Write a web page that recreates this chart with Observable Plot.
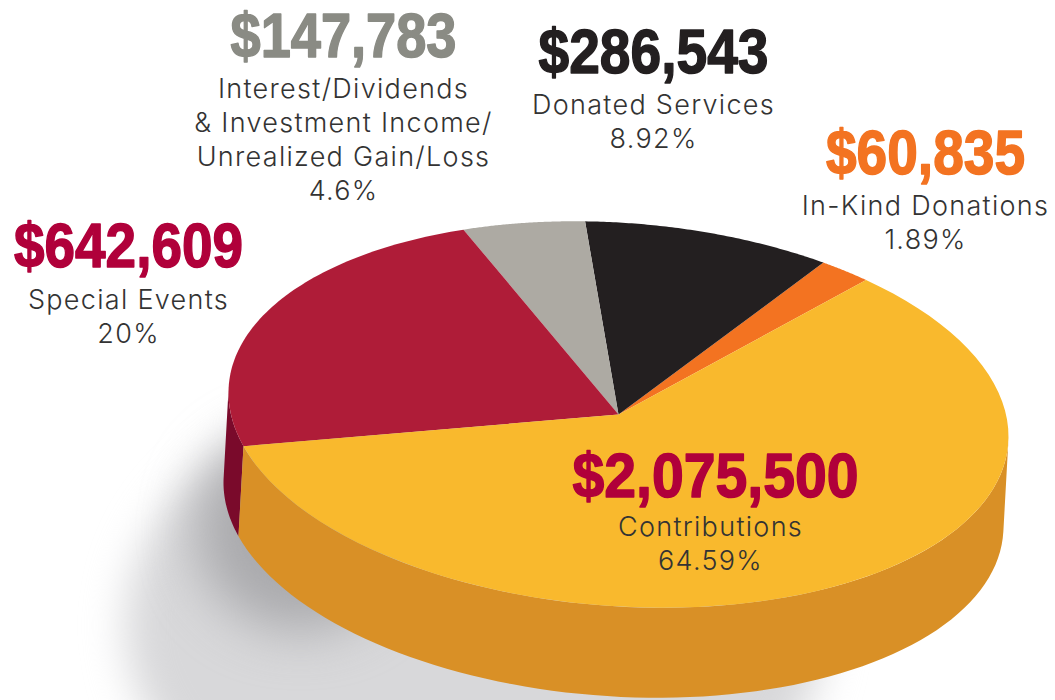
<!DOCTYPE html>
<html>
<head>
<meta charset="utf-8">
<script src="https://cdn.jsdelivr.net/npm/d3@7"></script>
<script src="https://cdn.jsdelivr.net/npm/@observablehq/plot@0.6"></script>
<style>
html,body{margin:0;padding:0;background:#fff}
.caption text{letter-spacing:1.3px}
</style>
</head>
<body>
<div id="chart"></div>
<script>
// Data
const categories = ["In-Kind Donations", "Donated Services", "Interest/Dividends\n& Investment Income/\nUnrealized Gain/Loss", "Special Events", "Contributions"];
const amounts = ["$60,835", "$286,543", "$147,783", "$642,609", "$2,075,500"];
const percents = ["1.89%", "8.92%", "4.6%", "20%", "64.59%"];
// Share of the ellipse each slice occupies as drawn (the artwork exaggerates small slices)
const drawnShares = [2.14, 10.17, 5.14, 22.92, 59.63];

// Styles
const topColors = ["#F37321", "#231F20", "#ADAAA3", "#AF1C38", "#F9B92D"];
const wallColors = ["#B5541A", "#111", "#7d7b76", "#7A0A2B", "#D99026"];
const amountColors = ["#F37321", "#231F20", "#8A8B84", "#B0003A", "#B0003A"];

// Layout in picture units
const pie = {cx: 618, cy: 414, rx: 390, ry: 192, skew: 0.056, wallDx: -5, wallDy: 90, start: 50.6};
const amountAt = [[925, 153], [653, 52], [343, 36], [128, 246], [715, 476]];
const captionAt = [[925, 190], [653, 89], [343, 73], [128, 284], [710, 511]];
const amountWidths = [199, 230, 226, 229, 286];

const rim = (deg, dx = 0, dy = 0) => {
  const t = deg * Math.PI / 180;
  return {
    x: pie.cx + pie.rx * Math.cos(t) + dx,
    y: pie.cy - pie.ry * Math.sin(t) + pie.skew * pie.rx * Math.cos(t) + dy
  };
};
const arc = (a, b, dx, dy) => d3.range(0, 81).map(i => rim(a + (b - a) * i / 80, dx, dy));

// The wall is only visible between the two rim points whose tangent runs along the extrusion
const tangent = Math.atan2(pie.ry * pie.wallDx, pie.rx * pie.wallDy + pie.skew * pie.rx * -pie.wallDx) * 180 / Math.PI;
const wallFrom = 180 + tangent, wallTo = 360 + tangent;

let angle = pie.start;
const tops = [], walls = [];
categories.forEach((name, i) => {
  const a = angle, b = angle + drawnShares[i] * 3.6;
  angle = b;
  const topPts = arc(a, b, 0, 0);
  [{x: pie.cx, y: pie.cy}, ...topPts].forEach(p => tops.push({...p, i, color: topColors[i]}));
  const wa = Math.max(a, wallFrom), wb = Math.min(b, wallTo);
  if (wb > wa) [...arc(wa, wb, 0, 0), ...arc(wa, wb, pie.wallDx, pie.wallDy).reverse()]
    .forEach(p => walls.push({...p, i, color: wallColors[i]}));
});
const blob = (cx, cy, rx, ry) => d3.range(0, 121).map(i => {
  const t = i / 120 * 2 * Math.PI;
  return {x: cx + rx * Math.cos(t), y: cy - ry * Math.sin(t)};
});

const rows = categories.map((name, i) => ({
  amount: amounts[i], caption: `${name}\n${percents[i]}`,
  ax: amountAt[i][0], ay: amountAt[i][1], cx: captionAt[i][0], cy: captionAt[i][1],
  color: amountColors[i]
}));

const plot = Plot.plot({
  width: 1055, height: 700, margin: 0,
  x: {domain: [0, 1055], range: [0, 1055], axis: null},
  y: {domain: [0, 700], range: [0, 700], axis: null},
  color: {type: "identity"},
  style: {background: "#fff"},
  marks: [
    Plot.line(blob(475, 625, 350, 245), {x: "x", y: "y", fill: "#d8d8da", stroke: "none", imageFilter: "blur(20px)"}),
    Plot.line(blob(300, 530, 105, 100), {x: "x", y: "y", fill: "#aaaaad", stroke: "none", imageFilter: "blur(26px)"}),
    Plot.line(walls, {x: "x", y: "y", z: "i", fill: "color", stroke: "none"}),
    Plot.line(tops, {x: "x", y: "y", z: "i", fill: "color", stroke: "none"}),
    Plot.text(rows, {x: "ax", y: "ay", text: "amount", fill: "color", stroke: "color", strokeWidth: 1.5,
      fontFamily: "Liberation Sans", fontWeight: 700, fontSize: 63, className: "amount"}),
    Plot.text(rows, {x: "cx", y: "cy", text: "caption", fill: "#333", lineAnchor: "top", lineHeight: 1.26,
      fontFamily: "Inter", fontWeight: 300, fontSize: 27, className: "caption"})
  ]
});
document.getElementById("chart").appendChild(plot);
// Condense the amount figures to their width in the picture (no condensed face is installed)
plot.querySelectorAll(".amount text").forEach((t, i) => {
  t.setAttribute("textLength", amountWidths[i]);
  t.setAttribute("lengthAdjust", "spacingAndGlyphs");
});
</script>
</body>
</html>
